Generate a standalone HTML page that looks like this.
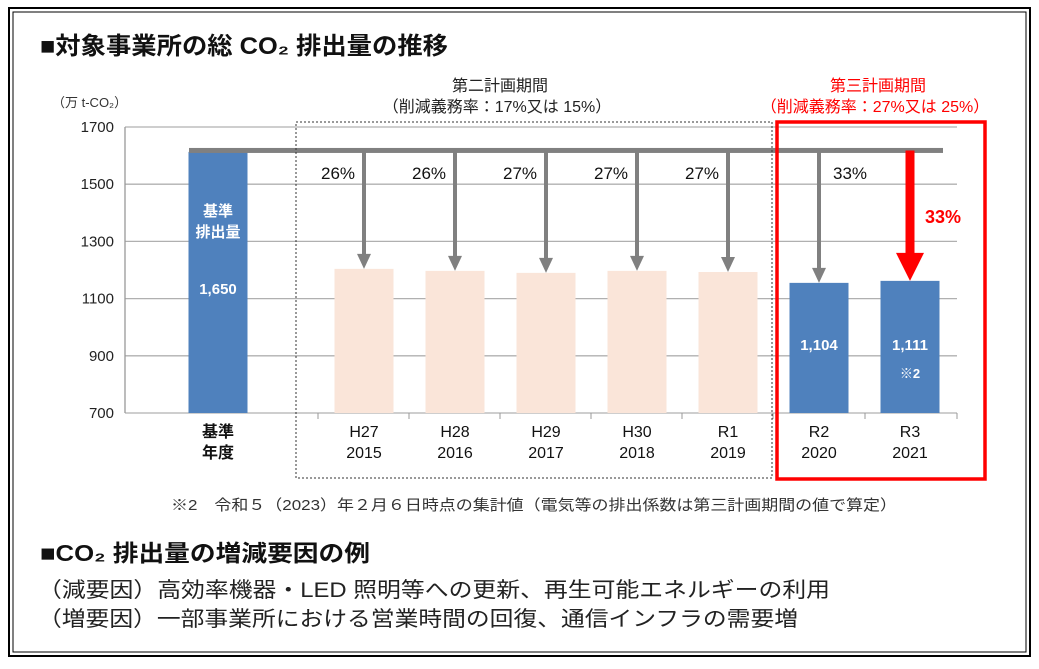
<!DOCTYPE html>
<html><head><meta charset="utf-8"><style>
body{margin:0;width:1039px;height:664px;background:#fff;overflow:hidden;font-family:"Liberation Sans","Noto Sans CJK JP",sans-serif;}
svg text{font-family:"Liberation Sans","Noto Sans CJK JP",sans-serif;}
</style></head><body>
<svg id="c" width="1039" height="664" xmlns="http://www.w3.org/2000/svg">
<rect x="9" y="8" width="1021" height="648" fill="none" stroke="#000" stroke-width="2"/>
<rect x="13" y="12" width="1013" height="640" fill="none" stroke="#000" stroke-width="1"/>
<text x="40" y="54" font-size="24" font-weight="bold" fill="#111" textLength="408" lengthAdjust="spacingAndGlyphs">■対象事業所の総 CO₂ 排出量の推移</text>
<text x="52" y="107" font-size="13" fill="#333">（万 t-CO₂）</text>
<text x="500" y="91" font-size="16" text-anchor="middle" fill="#222">第二計画期間</text>
<text x="497" y="112" font-size="16" text-anchor="middle" fill="#222">（削減義務率：17%又は 15%）</text>
<text x="878" y="91" font-size="16" text-anchor="middle" fill="#f00">第三計画期間</text>
<text x="875" y="112" font-size="16" text-anchor="middle" fill="#f00">（削減義務率：27%又は 25%）</text>
<g id="plot"></g>
<rect x="296" y="122" width="476" height="356" fill="none" stroke="#333" stroke-width="1" stroke-dasharray="2,2"/>
<rect x="777" y="122" width="208" height="357" fill="none" stroke="#f00" stroke-width="3.5"/>
<text x="171" y="510" font-size="15" fill="#333" textLength="726" lengthAdjust="spacingAndGlyphs">※2　令和５（2023）年２月６日時点の集計値（電気等の排出係数は第三計画期間の値で算定）</text>
<text x="40" y="561" font-size="23" font-weight="bold" fill="#111" textLength="330" lengthAdjust="spacingAndGlyphs">■CO₂ 排出量の増減要因の例</text>
<text x="38" y="597" font-size="21" fill="#222" textLength="792" lengthAdjust="spacingAndGlyphs">（減要因）高効率機器・LED 照明等への更新、再生可能エネルギーの利用</text>
<text x="38" y="626" font-size="21" fill="#222" textLength="760" lengthAdjust="spacingAndGlyphs">（増要因）一部事業所における営業時間の回復、通信インフラの需要増</text>
</svg>
<script>
const categories=["基準年度","2015","2016","2017","2018","2019","2020","2021"];
const topLabels=[["基準","年度"],["H27","2015"],["H28","2016"],["H29","2017"],["H30","2018"],["R1","2019"],["R2","2020"],["R3","2021"]];
const values=[1613,1204,1197,1190,1197,1193,1155,1162];
const barLabels=["1,650","","","","","","1,104","1,111"];
const reductions=["","26%","26%","27%","27%","27%","33%","33%"];
const yTicks=[700,900,1100,1300,1500,1700];
const baseline=1618;
const NS="http://www.w3.org/2000/svg";
const g=document.getElementById('plot');
const y=v=>413-(v-700)*0.286;
const x=i=>i===0?218:364+(i-1)*91;
function el(t,a){const e=document.createElementNS(NS,t);for(const k in a)e.setAttribute(k,a[k]);g.appendChild(e);return e;}
yTicks.forEach(t=>{
 const l=el('line',{x1:125,x2:957,y1:y(t),y2:y(t),stroke:'#b0b0b0','stroke-width':1.3});
 
 
 const tx=el('text',{x:114,y:y(t)+5,'font-size':15,'text-anchor':'end',fill:'#222'});tx.textContent=t;
 
 
});
const ax=el('line',{x1:125,x2:125,y1:y(1700),y2:y(700),stroke:'#999','stroke-width':1.3});


[318,409,500,591,682,773,865,957].forEach(px=>{const t=el('line',{x1:px,x2:px,y1:413,y2:419,stroke:'#999'});});
values.forEach((v,i)=>{
 const blue=(i===0||i>=6);
 const r=el('rect',{x:x(i)-29.5,y:y(v),width:59,height:413-y(v),fill:blue?'#4f81bd':'#fae5d9'});
 
 
 topLabels[i].forEach((s,k)=>{const t=el('text',{x:x(i),y:437+k*21,'font-size':16,'text-anchor':'middle',fill:'#111','font-weight':i===0?'bold':'normal'});t.textContent=s;
  
  });
 if(barLabels[i]){const t=el('text',{x:x(i),y:i===0?294:350,'font-size':15,'font-weight':'bold','text-anchor':'middle',fill:'#fff'});t.textContent=barLabels[i];
  
  }
});
['基準','排出量'].forEach((s,k)=>{const t=el('text',{x:x(0),y:216+k*21,'font-size':15,'font-weight':'bold','text-anchor':'middle',fill:'#fff'});t.textContent=s;
 
 });
const n2=el('text',{x:x(7),y:378,'font-size':13,'font-weight':'bold','text-anchor':'middle',fill:'#fff'});n2.textContent='※2';


const bl=el('rect',{x:x(0)-29,y:y(baseline)-2.5,width:943-(x(0)-29),height:5,fill:'#808080'});


for(let i=1;i<8;i++){
 const top=y(baseline),bot=y(values[i]);const red=i===7;
 const w=red?9:4,hw=red?14:7,hh=red?28:15;
 const p=el('path',{d:`M${x(i)-w/2},${top} L${x(i)+w/2},${top} L${x(i)+w/2},${bot-hh} L${x(i)+hw},${bot-hh} L${x(i)},${bot} L${x(i)-hw},${bot-hh} L${x(i)-w/2},${bot-hh}Z`,fill:red?'#f00':'#808080'});
 
 
 const dx=red?33:(i===6?31:-26);
 const t=el('text',{x:x(i)+dx,y:red?223:179,'font-size':red?18:17,'font-weight':red?'bold':'normal','text-anchor':'middle',fill:red?'#f00':'#111'});t.textContent=reductions[i];
 
 
}
</script>
</body></html>
